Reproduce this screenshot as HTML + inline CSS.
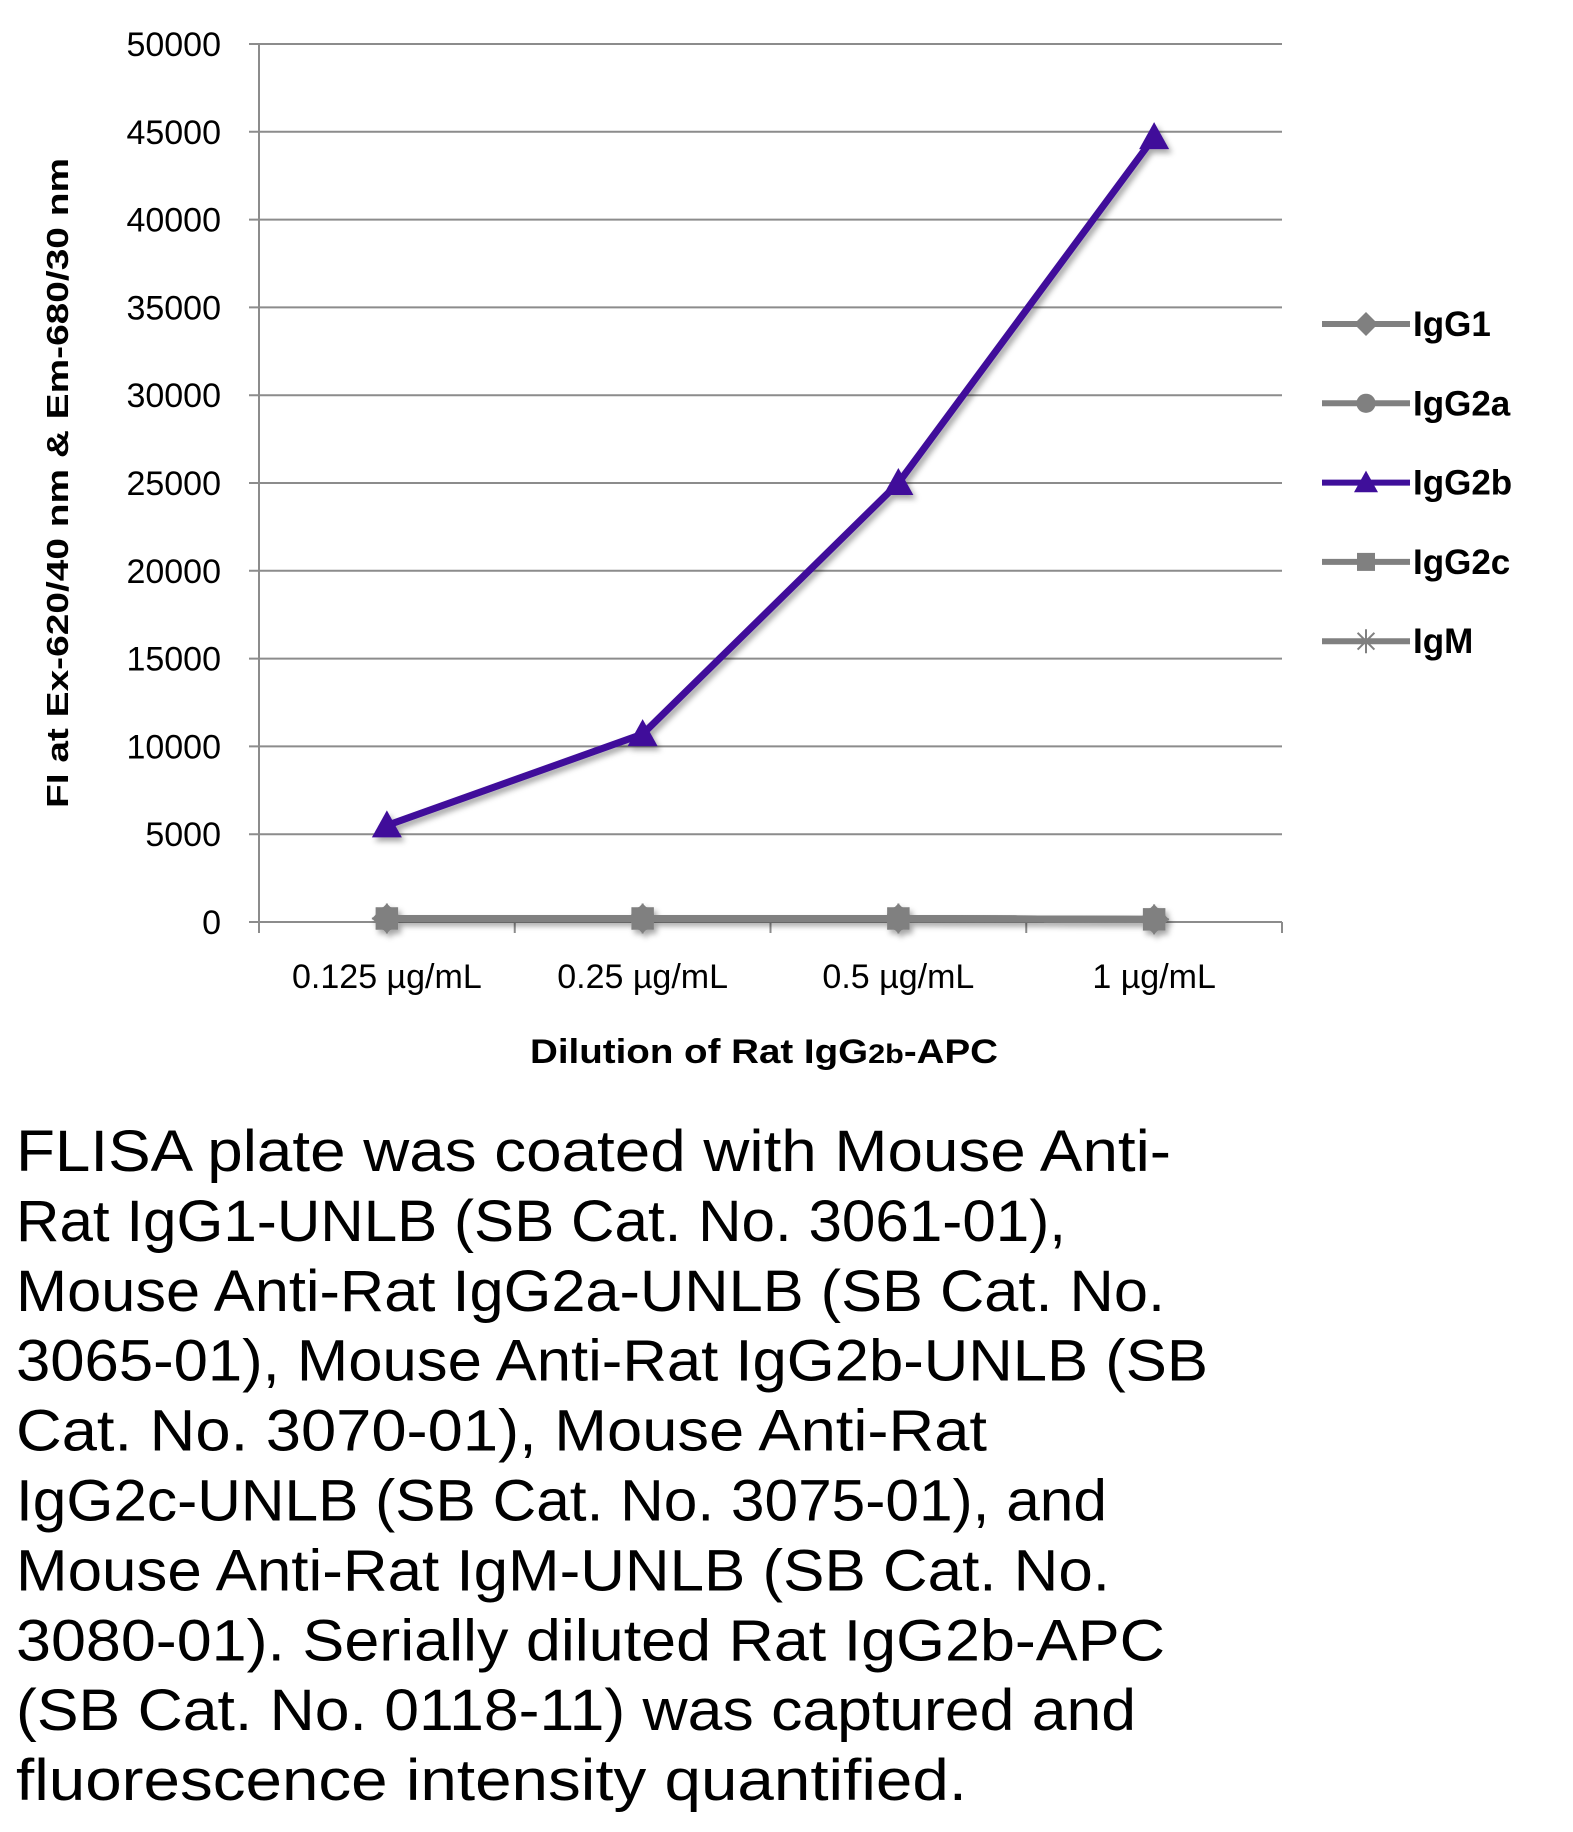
<!DOCTYPE html>
<html><head><meta charset="utf-8"><style>
html,body{margin:0;padding:0;background:#fff;}
svg{display:block;font-family:"Liberation Sans",sans-serif;}
</style></head><body>
<svg id="chart" width="1573" height="1832" viewBox="0 0 1573 1832" xmlns="http://www.w3.org/2000/svg">
<defs><filter id="sh" x="-10%" y="-10%" width="120%" height="130%"><feDropShadow dx="3" dy="4" stdDeviation="3" flood-color="#000" flood-opacity="0.35"/></filter></defs>
<g id="grid"></g>
<g id="axes"></g>
<g id="series" filter="url(#sh)"></g>
<g id="legend"></g>
<text transform="translate(68,483) rotate(-90)" text-anchor="middle" font-size="31" font-weight="bold" textLength="650" lengthAdjust="spacingAndGlyphs">FI at Ex-620/40 nm &amp; Em-680/30 nm</text>
<text x="764" y="1063" text-anchor="middle" font-size="34" font-weight="bold" textLength="468" lengthAdjust="spacingAndGlyphs">Dilution of Rat IgG<tspan font-size="27">2b</tspan>-APC</text>
<g id="caption" font-size="58" fill="#000"></g>
</svg>
<script>
const categories = ["0.125 µg/mL","0.25 µg/mL","0.5 µg/mL","1 µg/mL"];
const yTicks = [0,5000,10000,15000,20000,25000,30000,35000,40000,45000,50000];
const seriesNames = ["IgG1","IgG2a","IgG2b","IgG2c","IgM"];
const igG1 = [200,200,200,150];
const igG2a = [200,200,200,150];
const igG2b = [5500,10700,25000,44700];
const igG2c = [200,200,200,150];
const igM = [200,200,200,150];
const seriesData = [igG1,igG2a,igG2b,igG2c,igM];
const seriesColors = ["#808080","#808080","#3f0f9a","#808080","#808080"];
const markers = ["diamond","circle","triangle","square","star"];
const captionLines = ["FLISA plate was coated with Mouse Anti-","Rat IgG1-UNLB (SB Cat. No. 3061-01),","Mouse Anti-Rat IgG2a-UNLB (SB Cat. No.","3065-01), Mouse Anti-Rat IgG2b-UNLB (SB","Cat. No. 3070-01), Mouse Anti-Rat","IgG2c-UNLB (SB Cat. No. 3075-01), and","Mouse Anti-Rat IgM-UNLB (SB Cat. No.","3080-01).  Serially diluted Rat IgG2b-APC","(SB Cat. No. 0118-11) was captured and","fluorescence intensity quantified."];
const captionWidths = [1155,1050,1149,1192,971,1091,1094,1149,1120,951];

const NS="http://www.w3.org/2000/svg";
const L=259,R=1282,T=44,B=922;
const yMax=50000;
const y=v=>B-(v/yMax)*(B-T);
const step=(R-L)/categories.length;
const x=i=>L+step*(i+0.5);
function mk(tag,attrs,parent,txt){const e=document.createElementNS(NS,tag);for(const k in attrs)e.setAttribute(k,attrs[k]);if(txt!==undefined)e.textContent=txt;parent.appendChild(e);return e;}
const grid=document.getElementById('grid'),axes=document.getElementById('axes'),ser=document.getElementById('series'),leg=document.getElementById('legend');
yTicks.forEach(t=>{
  const l=mk('line',{x1:L-10,x2:R,y1:y(t),y2:y(t),stroke:'#8c8c8c','stroke-width':2},grid);
  
  
  const tx=mk('text',{x:221,y:y(t)+12,'text-anchor':'end','font-size':34,fill:'#000'},axes,String(t));
  
  
});
mk('line',{x1:L,x2:L,y1:T,y2:B,stroke:'#8c8c8c','stroke-width':2},axes);
for(let i=0;i<=categories.length;i++){mk('line',{x1:L+step*i,x2:L+step*i,y1:B,y2:B+11,stroke:'#8c8c8c','stroke-width':2},axes);}
categories.forEach((c,i)=>{
  const tx=mk('text',{x:x(i),y:988,'text-anchor':'middle','font-size':34},axes,c);
  
  
});
function marker(type,cx,cy,color,parent,s){
  let e;
  if(type==='diamond')e=mk('polygon',{points:`${cx},${cy-s} ${cx+s},${cy} ${cx},${cy+s} ${cx-s},${cy}`,fill:color},parent);
  else if(type==='circle')e=mk('circle',{cx:cx,cy:cy,r:s*0.8,fill:color},parent);
  else if(type==='triangle')e=mk('polygon',{points:`${cx},${cy-s} ${cx+s},${cy+s*0.8} ${cx-s},${cy+s*0.8}`,fill:color},parent);
  else if(type==='square')e=mk('rect',{x:cx-s*0.75,y:cy-s*0.75,width:s*1.5,height:s*1.5,fill:color},parent);
  else {e=mk('path',{d:`M${cx-s} ${cy}H${cx+s}M${cx} ${cy-s}V${cy+s}M${cx-s*.7} ${cy-s*.7}L${cx+s*.7} ${cy+s*.7}M${cx-s*.7} ${cy+s*.7}L${cx+s*.7} ${cy-s*.7}`,stroke:color,'stroke-width':2,fill:'none'},parent);}
  return e;
}
[0,1,3,4,2].forEach(si=>{
  const d=seriesData[si];
  const pl=mk('polyline',{points:d.map((v,i)=>x(i)+','+y(v)).join(' '),fill:'none',stroke:seriesColors[si],'stroke-width':7,'stroke-linejoin':'round'},ser);
  
  
  d.forEach((v,i)=>{
    const m=marker(markers[si],x(i),y(v),seriesColors[si],ser,15);
    
    
  });
});
seriesNames.forEach((n,i)=>{
  const ly=324+i*79.3;
  const g=mk('g',{},leg);
  
  
  mk('line',{x1:1322,x2:1410,y1:ly,y2:ly,stroke:seriesColors[i],'stroke-width':6},g);
  marker(markers[i],1366,ly,seriesColors[i],g,12);
  mk('text',{x:1413,y:ly+12,'font-size':35,'font-weight':'bold',fill:'#000'},g,n);
});
const cap=document.getElementById('caption');
captionLines.forEach((s,i)=>{
  const t=mk('text',{x:16,y:1171+i*69.9,textLength:captionWidths[i],lengthAdjust:'spacingAndGlyphs','xml:space':'preserve'},cap,s);
  
  
});
</script>
</body></html>
